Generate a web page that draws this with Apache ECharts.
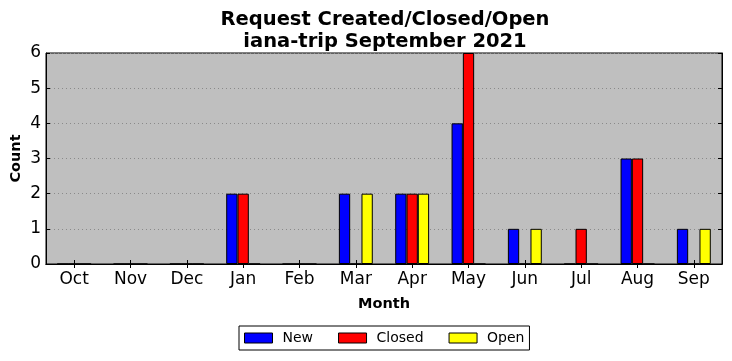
<!DOCTYPE html>
<html><head><meta charset="utf-8">
<script src="https://cdn.jsdelivr.net/npm/echarts@6/dist/echarts.min.js"></script>
<style>html,body{margin:0;padding:0;background:#fff}#c{width:732px;height:361px}</style>
</head><body><div id="c"></div>
<script>
const months = ['Oct','Nov','Dec','Jan','Feb','Mar','Apr','May','Jun','Jul','Aug','Sep'];
const newVals = [0,0,0,2,0,2,2,4,1,0,3,1];
const closedVals = [0,0,0,2,0,0,2,6,0,1,3,0];
const openVals = [0,0,0,0,0,2,2,0,1,0,0,1];
const yTicks = [0,1,2,3,4,5,6];

const font = 'DejaVu Sans';
const chart = echarts.init(document.getElementById('c'), null, {renderer:'canvas'});
function bar(name, data, color){
  return {name, type:'bar', data, barWidth:11.3, barGap:'0%',
    itemStyle:{color, borderColor:'#000', borderWidth:1}, xAxisIndex:0, yAxisIndex:0};
}
chart.setOption({
  animation:false,
  title:{text:'Request Created/Closed/Open\niana-trip September 2021', left:380, top:4, textAlign:'center',
    textStyle:{fontFamily:font, fontWeight:'bold', fontSize:19.5, lineHeight:22, color:'#000'}},
  grid:{left:46, right:10, top:53, bottom:97, show:true, backgroundColor:'#bfbfbf', borderColor:'#000', borderWidth:1,
    containLabel:false, outerBoundsMode:'none'},
  legend:{left:239, top:326, orient:'horizontal', itemWidth:28, itemHeight:10, itemGap:25,
    borderColor:'#000', borderWidth:1, padding:[5,5,5,5], icon:'rect',
    itemStyle:{borderColor:'#000', borderWidth:1},
    textStyle:{fontFamily:font, fontSize:14, color:'#000', padding:[0,0,0,5]},
    data:['New','Closed','Open']},
  xAxis:[{type:'category', data:months, position:'bottom',
    name:'Month', nameLocation:'middle', nameGap:33, nameMoveOverlap:false,
    nameTextStyle:{fontFamily:font, fontWeight:'bold', fontSize:14.5, color:'#000'},
    axisLine:{show:true, lineStyle:{color:'#000'}},
    axisTick:{show:true, alignWithLabel:true, inside:true, length:4, lineStyle:{color:'#000'}},
    axisLabel:{fontFamily:font, fontSize:17, color:'#000', margin:7},
    splitLine:{show:false}},
   {type:'category', data:months, position:'top',
    axisLine:{show:true, lineStyle:{color:'#000'}},
    axisTick:{show:true, alignWithLabel:true, inside:true, length:4, lineStyle:{color:'#000'}},
    axisLabel:{show:false}}],
  yAxis:[{type:'value', min:0, max:6, interval:1,
    name:'Count', nameLocation:'middle', nameGap:22, nameRotate:90, nameMoveOverlap:false,
    nameTextStyle:{fontFamily:font, fontWeight:'bold', fontSize:14.5, color:'#000'},
    axisLine:{show:true, lineStyle:{color:'#000'}},
    axisTick:{show:true, inside:true, length:4, lineStyle:{color:'#000'}},
    axisLabel:{fontFamily:font, fontSize:17, color:'#000', margin:5,
      formatter:v=>yTicks.includes(v)?String(v):''},
    splitLine:{show:true, lineStyle:{color:'#8a8a8a', type:[1,3], width:1}}},
   {type:'value', min:0, max:6, interval:1, position:'right',
    axisLine:{show:true, lineStyle:{color:'#000'}},
    axisTick:{show:true, inside:true, length:4, lineStyle:{color:'#000'}},
    axisLabel:{show:false}, splitLine:{show:false}}],
  series:[bar('New', newVals, '#0000ff'), bar('Closed', closedVals, '#ff0000'), bar('Open', openVals, '#ffff00')]
});
</script></body></html>
